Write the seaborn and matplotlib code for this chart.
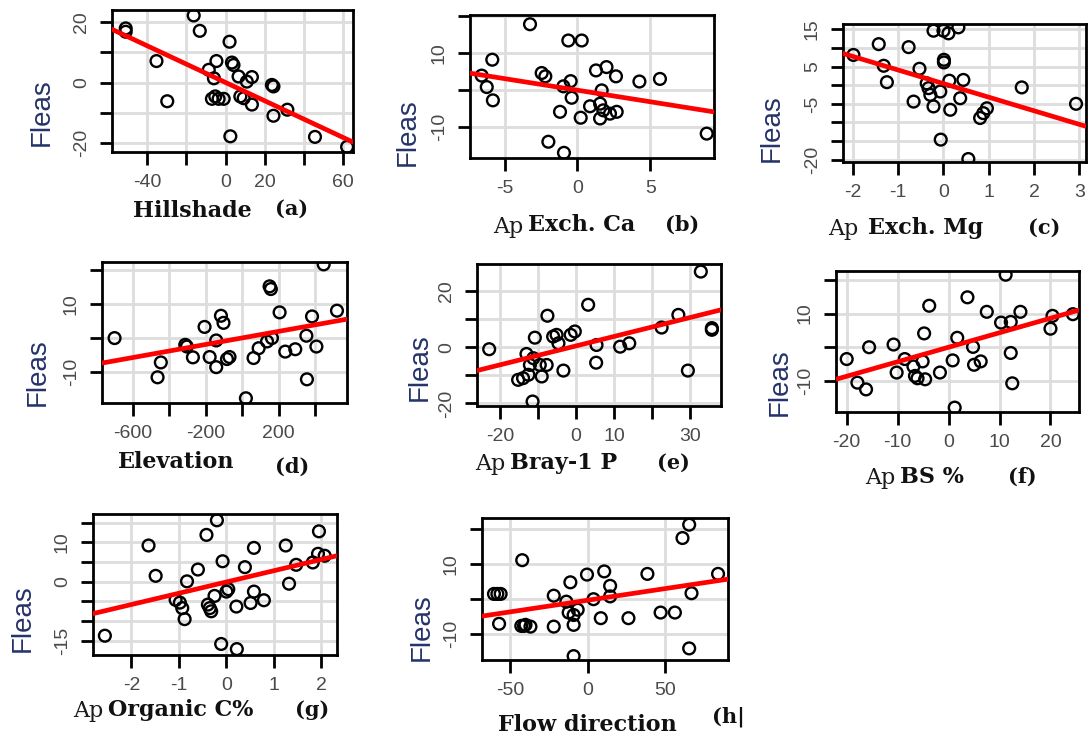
import matplotlib
matplotlib.use("Agg")
import matplotlib.pyplot as plt
import seaborn as sns
import pandas as pd

# ---------------- data ----------------
hill_x = [-51, -51, -16.3, -13.2, -35.3, -29.8, 2, -4.7, 3.2, 4, -8.6, -6, 6.6, 13.4, 10.8,
          -5.3, -3.6, -1, -7, 7.5, 9.2, 13.4, 23.6, 24.4, 24.4, 31.5, 2.4, 45.6, 62]
hill_y = [17.9, 16.8, 22.2, 17.1, 7.1, -6.2, 13.5, 7.1, 6.6, 5.8, 4.2, 1.4, 2.0, 1.8, 0.3,
          -4.6, -5.4, -5.4, -5.4, -4.6, -5.2, -7.3, -0.8, -1.3, -11, -9, -17.8, -18, -21.3]

ca_x = [-3.25, -0.62, 0.3, -5.84, -6.57, -6.22, -5.8, -2.45, -2.2, -0.96, -0.46, -0.39, -1.19,
        0.23, 1.28, 2.0, 2.65, 4.26, 5.67, 1.67, 0.87, 1.56, 1.78, 1.56, 2.24, 2.7, -1.99, -0.92, 8.88]
ca_y = [17.9, 13.5, 13.5, 8.3, 4.0, 0.9, -2.7, 4.7, 3.8, 1.1, 2.5, -2.0, -5.8,
        -7.4, 5.4, 6.3, 3.8, 2.4, 3.1, 0, -4.3, -3.6, -5.4, -7.6, -6.3, -5.8, -13.9, -16.9, -11.7]

mg_x = [-1.99, -1.43, -1.32, -1.25, -0.77, -0.53, -0.66, -0.22, 0, 0.11, 0.33, 0.01, 0.01, -0.37,
        -0.33, -0.29, -0.22, -0.07, 0.13, 0.44, 0.37, 0.15, 0.81, 0.88, 0.96, 1.73, -0.06, 0.55, 2.93]
mg_y = [8.1, 11.0, 5.2, 0.8, 10.2, 4.4, -4.4, 14.6, 14.6, 13.9, 15.5, 6.8, 6.1, 0.5,
        -0.8, -2.6, -5.7, -1.7, 1.2, 1.4, -3.5, -6.6, -8.8, -7.5, -6.2, -0.6, -14.6, -19.8, -5.0]

elev_x = [-701, -447, -465, -313, -304, -271, -207, -179, -143, -143, -117, -103, -70, -84, 20,
          62, 90, 136, 163, 150, 157, 205, 236, 291, 352, 383, 407, 355, 447, 520]
elev_y = [0, -7.2, -11.6, -2.0, -2.5, -5.7, 3.3, -5.6, -8.6, -0.7, 6.6, 4.5, -5.6, -6.2, -17.8,
          -5.9, -3.0, -1.0, 0, 15.3, 14.5, 7.6, -4.0, -3.3, 0.7, 6.4, -2.5, -12.2, 21.8, 8.1]

p_x = [-22.8, -7.5, -10.8, -13, -11.2, -12.1, -15.2, -13.9, -12.5, -9.5, -9, -7.7, -11.4, -6, -5.1,
       -4.6, -3.3, -1.4, -0.3, 3.2, 5.4, 5.3, 11.6, 14, 22.5, 26.9, 29.4, 32.8, 35.7, 35.7]
p_y = [-0.7, 11.2, 3.4, -2.4, -3.9, -6.3, -11.6, -11.0, -9.8, -6.3, -10.4, -6.3, -19.3, 3.8, 4.4,
       1.4, -8.3, 4.4, 5.6, 15.1, 0.8, -5.5, 0.2, 1.4, 7.0, 11.5, -8.3, 26.9, 6.2, 6.8]

bs_x = [-20, -17.9, -16.2, -15.6, -10.8, -10.2, -8.6, -6.9, -6.6, -6.1, -5.1, -4.6, -4.8, -3.8, -1.7,
        0.8, 1.2, 1.7, 3.7, 4.8, 5.0, 6.3, 7.5, 10.3, 11.2, 12.2, 12.5, 12.2, 14.1, 20, 20.4, 24.4]
bs_y = [-3.5, -10.5, -12.5, 0, 0.8, -7.5, -3.5, -5.7, -8.5, -9.2, -4.2, -9.5, 4.1, 12.3, -7.5,
        -3.9, -17.9, 2.8, 14.8, 0.1, -5.2, -4.2, 10.5, 7.3, 21.5, -1.7, -10.7, 7.5, 10.5, 5.5, 9.3, 9.8]

oc_x = [-2.56, -1.64, -1.49, -1.07, -0.98, -0.93, -0.88, -0.83, -0.6, -0.42, -0.39, -0.35, -0.32,
        -0.25, -0.2, -0.08, 0, 0.04, -0.11, 0.22, 0.21, 0.39, 0.51, 0.58, 0.58, 0.79, 1.25, 1.32,
        1.47, 1.82, 1.93, 1.95, 2.07]
oc_y = [-13.7, 9.2, 1.5, -4.6, -5.3, -6.7, -9.5, 0.1, 3.1, 11.9, -5.8, -6.7, -7.5,
        -3.6, 15.6, 5.2, -2.5, -1.9, -15.8, -17.1, -6.3, 3.7, -5.4, -2.5, 8.6, -4.7, 9.2, -0.5,
        4.3, 4.9, 7.1, 12.8, 6.6]

fd_x = [-60.3, -58.1, -56, -57, -42.1, -42.7, -41, -40, -36.8, -21.8, -21.8, -13.7, -12.2, -11.1,
        -9, -9, -6.4, -9, -0.4, 3.8, 8.5, 10.7, 14.5, 14.5, 26.3, 38.5, 47, 56.2, 61.1, 65.4,
        66.9, 65.4, 84]
fd_y = [1.4, 1.4, 1.4, -7.1, 11, -7.7, -7.7, -7.4, -7.9, 0.9, -7.9, -0.8, -3.9, 4.7,
        -4.6, -7.4, -3.1, -16.3, 6.9, -0.1, -5.5, 7.8, 3.7, 0.7, -5.5, 7.1, -3.9, -3.9, 17.3, 21.1,
        1.6, -14.1, 7.1]

# fitted lines: intercept, slope
line_a = (0.0, -0.3035)
line_b = (0.05, -0.626)
line_c = (0.42, -3.64)
line_d = (0.05, 0.00966)
line_e = (0.46, 0.337)
line_f = (0.0, 0.43)
line_g = (-0.06, 2.86)
line_h = (-0.4, 0.0664)

# tick values and labels
xt_a = [-40, -20, 0, 20, 40, 60];      xl_a = ['-40', '', '0', '20', '', '60']
yt_a = [-20, -10, 0, 10, 20];          yl_a = ['-20', '', '0', '', '20']
xt_b = [-5, 0, 5];                     xl_b = ['-5', '0', '5']
yt_b = [-10, 0, 10, 20];               yl_b = ['-10', '', '10', '']
xt_c = [-2, -1, 0, 1, 2, 3];           xl_c = ['-2', '-1', '0', '1', '2', '3']
yt_c = [-20, -15, -10, -5, 0, 5, 10, 15]; yl_c = ['-20', '', '', '-5', '', '5', '', '15']
xt_d = [-600, -400, -200, 0, 200, 400]; xl_d = ['-600', '', '-200', '', '200', '']
yt_d = [-10, 0, 10, 20];               yl_d = ['-10', '', '10', '']
xt_e = [-20, -10, 0, 10, 20, 30];      xl_e = ['-20', '', '0', '10', '', '30']
yt_e = [-20, -10, 0, 10, 20];          yl_e = ['-20', '', '0', '', '20']
xt_f = [-20, -10, 0, 10, 20];          xl_f = ['-20', '-10', '0', '10', '20']
yt_f = [-10, 0, 10, 20];               yl_f = ['-10', '', '10', '']
xt_g = [-2, -1, 0, 1, 2];              xl_g = ['-2', '-1', '0', '1', '2']
yt_g = [-15, -10, -5, 0, 5, 10, 15];   yl_g = ['-15', '', '', '0', '', '10', '']
xt_h = [-50, 0, 50];                   xl_h = ['-50', '0', '50']
yt_h = [-10, 0, 10, 20];               yl_h = ['-10', '', '10', '']

# x-axis label texts
prefix = ['', 'Ap', 'Ap', '', 'Ap', 'Ap', 'Ap', '']
names = ['Hillshade', 'Exch. Ca', 'Exch. Mg', 'Elevation', 'Bray-1 P', 'BS %', 'Organic C%', 'Flow direction']
tags = ['(a)', '(b)', '(c)', '(d)', '(e)', '(f)', '(g)', '(h|']
ylabel = 'Fleas'

# ---------------- layout ----------------
W, H = 1089, 738
sns.set_theme(style="white")
plt.rcParams['font.family'] = ['Liberation Sans', 'DejaVu Sans']
fig = plt.figure(figsize=(W / 100, H / 100), dpi=100)
fig.patch.set_facecolor('white')

panels = [
    dict(x=hill_x, y=hill_y, line=line_a, xt=xt_a, xl=xl_a, yt=yt_a, yl=yl_a,
         box=(112, 10, 353, 152), lim=((-58, 65), (-23, 24)),
         fleas=(42, 112), lab=[(None, 0), (133, 211), (275, 209)]),
    dict(x=ca_x, y=ca_y, line=line_b, xt=xt_b, xl=xl_b, yt=yt_b, yl=yl_b,
         box=(470, 15, 714, 158), lim=((-7.37, 9.38), (-18.3, 20.4)),
         fleas=(408, 132), lab=[(493, 227), (528, 225), (665, 225)]),
    dict(x=mg_x, y=mg_y, line=line_c, xt=xt_c, xl=xl_c, yt=yt_c, yl=yl_c,
         box=(843, 24, 1086, 162), lim=((-2.22, 3.15), (-20.6, 16.4)),
         fleas=(772, 128), lab=[(828, 229), (868, 228), (1028, 228)]),
    dict(x=elev_x, y=elev_y, line=line_d, xt=xt_d, xl=xl_d, yt=yt_d, yl=yl_d,
         box=(102, 262, 347, 403), lim=((-770, 575), (-19.2, 22.5)),
         fleas=(38, 372), lab=[(None, 0), (118, 462), (275, 467)]),
    dict(x=p_x, y=p_y, line=line_e, xt=xt_e, xl=xl_e, yt=yt_e, yl=yl_e,
         box=(477, 264, 721, 406), lim=((-26, 38.1), (-20.9, 29.6)),
         fleas=(420, 367), lab=[(475, 464), (510, 463), (657, 463)]),
    dict(x=bs_x, y=bs_y, line=line_f, xt=xt_f, xl=xl_f, yt=yt_f, yl=yl_f,
         box=(836, 271, 1079, 412), lim=((-22.1, 25.6), (-19.2, 22.6)),
         fleas=(780, 382), lab=[(865, 478), (900, 477), (1008, 477)]),
    dict(x=oc_x, y=oc_y, line=line_g, xt=xt_g, xl=xl_g, yt=yt_g, yl=yl_g,
         box=(93, 514, 337, 655), lim=((-2.81, 2.33), (-18.6, 17.2)),
         fleas=(23, 618), lab=[(73, 711), (108, 710), (295, 710)]),
    dict(x=fd_x, y=fd_y, line=line_h, xt=xt_h, xl=xl_h, yt=yt_h, yl=yl_h,
         box=(482, 518, 728, 660), lim=((-68, 90.4), (-17.4, 23)),
         fleas=(422, 627), lab=[(None, 0), (498, 725), (712, 717)]),
]

serif = ['DejaVu Serif']
for i, p in enumerate(panels):
    l, t, r, b = p['box']
    ax = fig.add_axes([l / W, 1 - b / H, (r - l) / W, (b - t) / H])
    df = pd.DataFrame({'x': p['x'], 'y': p['y']})
    ax.set_xlim(*p['lim'][0])
    ax.set_ylim(*p['lim'][1])
    ax.set_xticks(p['xt'])
    ax.set_xticklabels(p['xl'])
    ax.set_yticks(p['yt'])
    ax.set_yticklabels(p['yl'], rotation=90, va='center')
    ax.grid(True, color='#dddddd', linewidth=2.0)
    ax.set_axisbelow(True)
    sns.scatterplot(data=df, x='x', y='y', ax=ax, marker='o', s=72,
                    facecolors='none', edgecolor='black', linewidth=1.7, zorder=3)
    a0, s0 = p['line']
    ax.axline((0, a0), slope=s0, color='#ff0000', linewidth=3.4, zorder=4)
    ax.set_xlabel('')
    ax.set_ylabel('')
    for sp in ax.spines.values():
        sp.set_color('black')
        sp.set_linewidth(2.0)
    ax.tick_params(axis='both', which='both', direction='out', length=9, width=2.0,
                   color='black', labelsize=14, labelcolor='#4a4a4a', pad=7,
                   bottom=True, left=True)
    fx, fy = p['fleas']
    fig.text(fx / W, 1 - fy / H, ylabel, rotation=90, ha='center', va='center',
             fontsize=20, color='#26336a')
    (apx, apy), (nx, ny), (tx, ty) = p['lab']
    if prefix[i]:
        fig.text(apx / W, 1 - apy / H, prefix[i], ha='left', va='center',
                 fontsize=16, family=serif, color='#1a1a1a')
    fig.text(nx / W, 1 - ny / H, names[i], ha='left', va='center', fontsize=16,
             fontweight='bold', family=serif, color='#111111')
    fig.text(tx / W, 1 - ty / H, tags[i], ha='left', va='center', fontsize=15,
             fontweight='bold', family=serif, color='#111111')

fig.savefig('out.png', dpi=100, facecolor='white')
